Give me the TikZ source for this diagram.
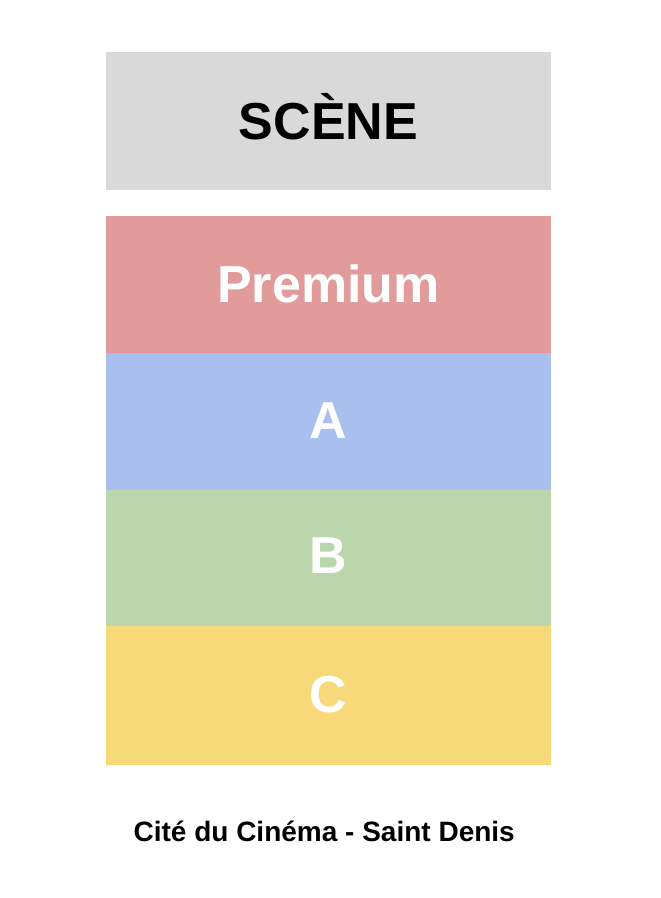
\documentclass[tikz,border=0pt]{standalone}
\usepackage{fontspec}
\setmainfont{Liberation Sans}
\usetikzlibrary{positioning}

\definecolor{scenegray}{HTML}{D9D9D9}
\definecolor{premred}{HTML}{E09B9A}
\definecolor{zoneblue}{HTML}{A9C0EE}
\definecolor{zonegreen}{HTML}{BBD6AC}
\definecolor{zoneyellow}{HTML}{F7D979}

\begin{document}
\begin{tikzpicture}[x=0.75pt,y=-0.75pt]
                \tikzset{zonelabel/.style={inner sep=0pt,font=\bfseries\fontsize{39}{39}\selectfont,text height=27.9pt,text depth=0pt}}
                \useasboundingbox (0,0) rectangle (660,898);
                \fill [scenegray] (106,52) rectangle (551,190.5);
                \fill [premred] (106,216) rectangle (551,353);
                \fill [zoneblue] (106,353) rectangle (551,490);
                \fill [zonegreen] (106,490) rectangle (551,626);
                \fill [zoneyellow] (106,626) rectangle (551,764.5);
                \node [zonelabel,text=black] (scene) at (328.5,120.5) {SCÈNE};
                \node [zonelabel,text=white] (premium) at (328.5,284) {Premium};
                \node [zonelabel,text=white] (zonea) at (328.5,419.5) {A};
                \node [zonelabel,text=white] (zoneb) at (328.5,555) {B};
                \node [zonelabel,text=white] (zonec) at (328.5,694) {C};
                \node [inner sep=0pt,font=\bfseries\fontsize{21}{21}\selectfont,text height=15pt,text depth=0pt] (venue) at (324.2,831.5) {Cité du Cinéma - Saint Denis};
            \end{tikzpicture}
\end{document}
